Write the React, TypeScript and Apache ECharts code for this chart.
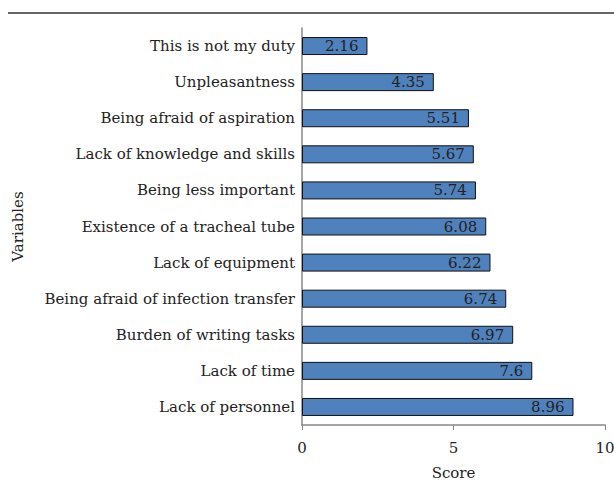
import React, { useEffect, useRef } from "react";
import * as echarts from "echarts";

const categories = [
  "This is not my duty",
  "Unpleasantness",
  "Being afraid of aspiration",
  "Lack of knowledge and skills",
  "Being less important",
  "Existence of a tracheal tube",
  "Lack of equipment",
  "Being afraid of infection transfer",
  "Burden of writing tasks",
  "Lack of time",
  "Lack of personnel",
];
const scores = [2.16, 4.35, 5.51, 5.67, 5.74, 6.08, 6.22, 6.74, 6.97, 7.6, 8.96];
const xTicks = [0, 5, 10];

const FONT = "DejaVu Serif";

export default function App() {
  const ref = useRef<HTMLDivElement>(null);
  useEffect(() => {
    if (!ref.current) return;
    const chart = echarts.init(ref.current, null, { renderer: "svg" });
    chart.setOption({
      animation: false,
      textStyle: { fontFamily: FONT },
      grid: {
        left: 302,
        right: 9,
        top: 28,
        bottom: 56,
        containLabel: false,
        outerBoundsMode: "none",
      },
      graphic: [
        {
          type: "line",
          shape: { x1: 8, y1: 13, x2: 614, y2: 13 },
          style: { stroke: "#666", lineWidth: 2 },
        },
      ],
      xAxis: {
        type: "value",
        min: xTicks[0],
        max: xTicks[xTicks.length - 1],
        interval: 5,
        name: "Score",
        nameLocation: "middle",
        nameGap: 40,
        nameTextStyle: { fontFamily: FONT, fontSize: 15, color: "#222" },
        axisLine: { show: true, lineStyle: { color: "#888", width: 1.5 } },
        axisTick: { show: true, length: 5, lineStyle: { color: "#888" } },
        axisLabel: { fontFamily: FONT, fontSize: 15, color: "#222", margin: 15 },
        splitLine: { show: false },
      },
      yAxis: {
        type: "category",
        data: categories,
        inverse: true,
        name: "Variables",
        nameLocation: "middle",
        nameGap: 277,
        nameRotate: 90,
        nameTextStyle: { fontFamily: FONT, fontSize: 15, color: "#222" },
        axisLine: { show: true, lineStyle: { color: "#888", width: 1.5 } },
        axisTick: { show: false },
        axisLabel: { fontFamily: FONT, fontSize: 15, color: "#222", margin: 7 },
      },
      series: [
        {
          type: "bar",
          data: scores,
          barWidth: 18,
          itemStyle: { color: "#4f81bd", borderColor: "#111", borderWidth: 1 },
          label: {
            show: true,
            position: "insideRight",
            distance: 9,
            fontFamily: FONT,
            fontSize: 15,
            color: "#222",
          },
        },
      ],
    });
    return () => chart.dispose();
  }, []);
  return (
    <div
      ref={ref}
      style={{ position: "absolute", left: 0, top: 0, width: 614, height: 481 }}
    />
  );
}
